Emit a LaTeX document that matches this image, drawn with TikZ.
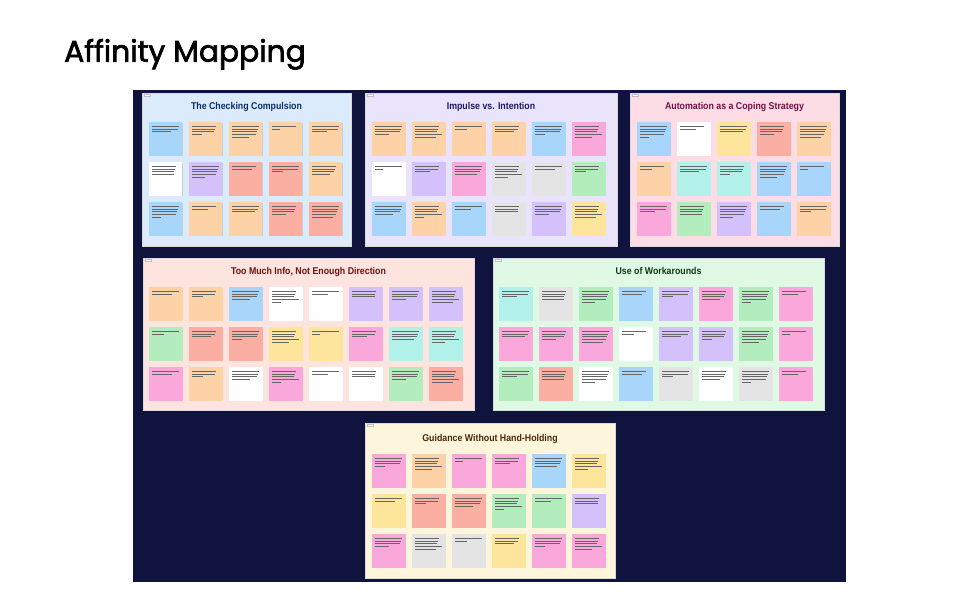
\documentclass[tikz,border=0pt]{standalone}
\usepackage{fontspec}
\setmainfont{Liberation Sans}
\newfontfamily\titlefont[FakeBold=2.2]{Poppins}
\usetikzlibrary{calc,shadows}

\definecolor{navy}{HTML}{10133E}
\definecolor{nB}{HTML}{A8D5FA}
\definecolor{nO}{HTML}{FDD2A6}
\definecolor{nW}{HTML}{FFFFFF}
\definecolor{nP}{HTML}{D4C1FB}
\definecolor{nR}{HTML}{FBAEA2}
\definecolor{nK}{HTML}{FAA7DC}
\definecolor{nG}{HTML}{E4E4E4}
\definecolor{nN}{HTML}{B3EDBE}
\definecolor{nY}{HTML}{FDE59C}
\definecolor{nC}{HTML}{B2F1EA}
\definecolor{bg1}{HTML}{DCEBFB}
\definecolor{bg2}{HTML}{E9E3FB}
\definecolor{bg3}{HTML}{FCDDE6}
\definecolor{bg4}{HTML}{FDE4DF}
\definecolor{bg5}{HTML}{DFF9E4}
\definecolor{bg6}{HTML}{FDF5DC}
\definecolor{tc1}{HTML}{0B2B6E}
\definecolor{tc2}{HTML}{1A1766}
\definecolor{tc3}{HTML}{7A0D45}
\definecolor{tc4}{HTML}{6E1010}
\definecolor{tc5}{HTML}{0F3B12}
\definecolor{tc6}{HTML}{4A2A0B}

\tikzset{
  sticky/.style={minimum width=33.3pt, minimum height=33.3pt, inner sep=0pt, outer sep=0pt,
    drop shadow={shadow xshift=0.4pt, shadow yshift=-0.7pt, opacity=0.12, fill=black}},
  txt/.style={draw=black!60, line width=0.35pt},
  frame/.style={draw=white!85!black, line width=0.5pt, inner sep=0pt, outer sep=0pt, anchor=north west},
  tag/.style={fill=white, draw=black!25, line width=0.2pt, minimum width=6pt, minimum height=2pt, inner sep=0pt, anchor=north west},
  ctitle/.style={anchor=base, font=\bfseries\fontsize{8.8}{10}\selectfont, inner sep=0pt}
}

\newcommand{\ttl}[1]{\scalebox{1}[1.12]{#1}}

\newcommand{\stickies}[6]{%
  \foreach \cl [count=\i from 0] in {#6} {
    \pgfmathtruncatemacro\rr{int(\i/#4)}
    \pgfmathtruncatemacro\cc{\i-\rr*#4}
    \node[sticky, fill=n\cl, anchor=north west] (#1n\i) at ({#2+40*\cc},{#3+40*\rr}) {};
    \pgfmathtruncatemacro\nl{2+mod(\i*5+#5,4)}
    \foreach \j in {1,...,\nl} {
      \pgfmathsetmacro\len{\j==\nl ? 8+mod(\i*7+#5*11,16) : 22+mod(\i*3+\j*5,6)}
      \draw[txt] ($(#1n\i.north west)+(3,{3.8+2.7*(\j-1)})$) -- ++(\len,0);
    }
  }
}

\begin{document}
\begin{tikzpicture}[x=1pt,y=-1pt]
\useasboundingbox (0,0) rectangle (979,607);
\fill[white] (0,0) rectangle (979,607);

\node[anchor=base west, font=\titlefont\fontsize{29.8}{30}\selectfont, inner sep=0pt] (title) at (64,61.7) {Affinity Mapping};

\node[fill=navy, minimum width=713pt, minimum height=492pt, inner sep=0pt, anchor=north west] (board) at (133,90) {};

% frames
\node[frame, fill=bg1, minimum width=209pt, minimum height=153pt] (f1) at (142,93) {};
\node[frame, fill=bg2, minimum width=252pt, minimum height=153pt] (f2) at (365,93) {};
\node[frame, fill=bg3, minimum width=209pt, minimum height=153pt] (f3) at (630,93) {};
\node[frame, fill=bg4, minimum width=331pt, minimum height=152pt] (f4) at (143,258) {};
\node[frame, fill=bg5, minimum width=331pt, minimum height=152pt] (f5) at (493,258) {};
\node[frame, fill=bg6, minimum width=250pt, minimum height=155pt] (f6) at (365,423) {};

\foreach \f in {f1,f2,f3,f4,f5,f6} {
  \node[tag] (\f tag) at ($(\f.north west)+(2,1.3)$) {};
}

% titles
\node[ctitle, text=tc1] (t1) at (246.5,109.5) {\ttl{The Checking Compulsion}};
\node[ctitle, text=tc2] (t2) at (491,109.5) {\ttl{Impulse vs. Intention}};
\node[ctitle, text=tc3] (t3) at (734.5,109.5) {\ttl{Automation as a Coping Strategy}};
\node[ctitle, text=tc4] (t4) at (308.5,274.5) {\ttl{Too Much Info, Not Enough Direction}};
\node[ctitle, text=tc5] (t5) at (658.5,274.5) {\ttl{Use of Workarounds}};
\node[ctitle, text=tc6] (t6) at (490,441.5) {\ttl{Guidance Without Hand-Holding}};

% sticky notes
\stickies{a}{149}{122.3}{5}{1}{B,O,O,O,O, W,P,R,R,O, B,O,O,R,R}
\stickies{b}{372.3}{122.3}{6}{2}{O,O,O,O,B,K, W,P,K,G,G,N, B,O,B,G,P,Y}
\stickies{c}{637.3}{122.3}{5}{3}{B,W,Y,R,O, O,C,C,B,B, K,N,P,B,O}
\stickies{d}{149.3}{287.3}{8}{4}{O,O,B,W,W,P,P,P, N,R,R,Y,Y,K,C,C, K,O,W,K,W,W,N,R}
\stickies{e}{499.3}{287.3}{8}{5}{C,G,N,B,P,K,N,K, K,K,K,W,P,P,N,K, N,R,W,B,G,W,G,K}
\stickies{g}{372.3}{454.3}{6}{6}{K,O,K,K,B,Y, Y,R,R,N,N,P, K,G,G,Y,K,K}
\end{tikzpicture}
\end{document}
